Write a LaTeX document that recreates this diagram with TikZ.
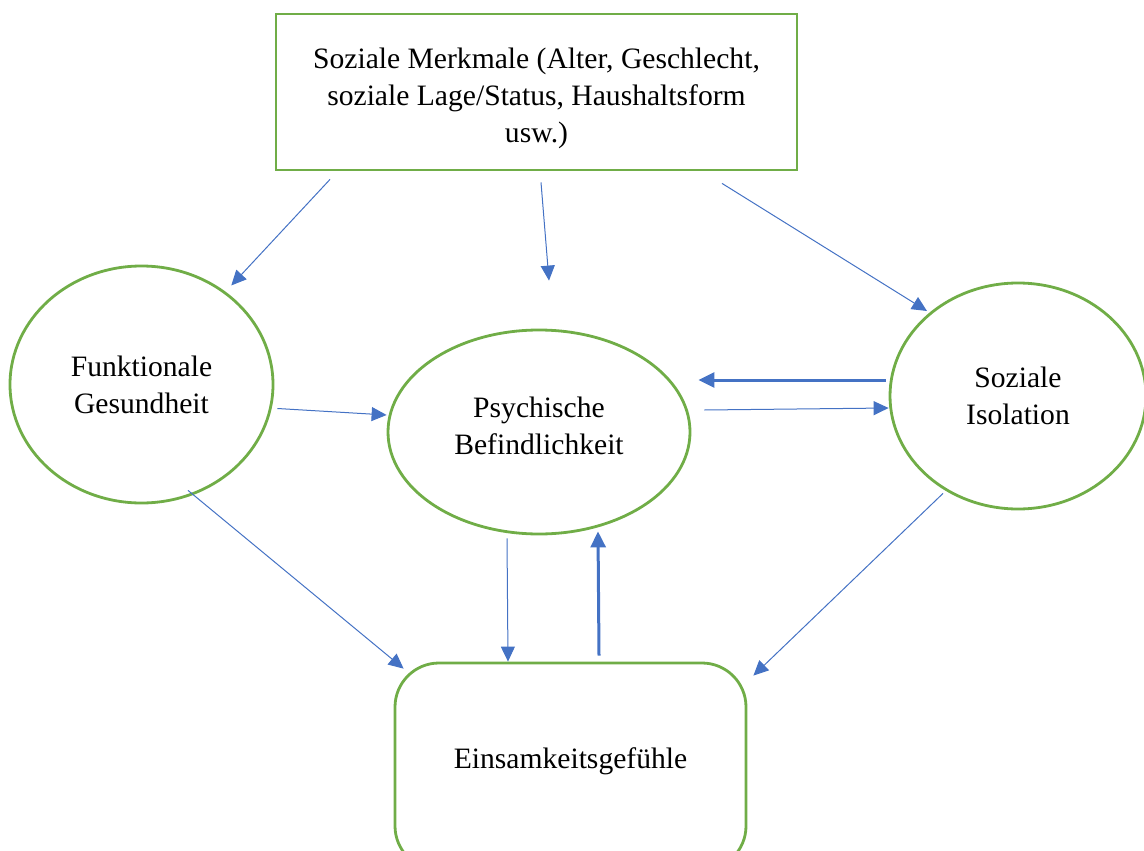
\documentclass[tikz,border=0pt]{standalone}
\usepackage{fontspec}
\setmainfont{Liberation Serif}
\usetikzlibrary{shapes.geometric,arrows.meta}
\definecolor{boxgreen}{HTML}{70AD47}
\definecolor{arrblue}{HTML}{4472C4}
\begin{document}
\begin{tikzpicture}[x=0.5pt, y=-0.5pt,
  every node/.style={font=\fontsize{14.8}{18.5}\selectfont, align=center, inner sep=0pt},
  greenbox/.style={draw=boxgreen, line width=1.4pt},
  oval/.style={greenbox, ellipse},
  arr/.style={draw=arrblue, line width=0.5pt, -{Triangle[length=7.5pt,width=7pt]}},
  thickarr/.style={draw=arrblue, line width=1.5pt, -{Triangle[length=8pt,width=7.5pt]}}]
\useasboundingbox (0,0) rectangle (1144,850);
\clip (0,0) rectangle (1144,850);
\node[greenbox, rectangle, minimum width=260.5pt, minimum height=78pt] (merk) at (536.5,92){};
\node (merktxt) at (536.5,98){Soziale Merkmale (Alter, Geschlecht,\\soziale Lage/Status, Haushaltsform\\usw.)};
\node[oval, minimum width=131.5pt, minimum height=118.5pt] (fg) at (141.5,384.5){Funktionale\\Gesundheit};
\node[oval, minimum width=151pt, minimum height=102pt] (psy) at (539,432){};
\node (psytxt) at (539,426){Psychische\\Befindlichkeit};
\node[oval, minimum width=128pt, minimum height=113pt] (iso) at (1018,396){Soziale\\Isolation};
\node[greenbox, rectangle, rounded corners=22pt, minimum width=175.5pt, minimum height=103.5pt] (einsam) at (570.5,766.5){};
\node (einsamtxt) at (570.5,761){Einsamkeitsgefühle};
\draw[arr] ([xshift=-103.25pt,yshift=-4pt]merk.south) -- ([xshift=3pt,yshift=3pt]fg.48);
\draw[arr] ([xshift=2.25pt,yshift=-5.5pt]merk.south) -- ([xshift=5pt,yshift=24pt]psy.north);
\draw[arr] ([xshift=92.75pt,yshift=-6pt]merk.south) -- ([xshift=-1pt,yshift=1pt]iso.137);
\draw[thickarr] ([xshift=-1.5pt,yshift=8pt]iso.west) -- ([xshift=3.5pt,yshift=26pt]psy.east);
\draw[arr] ([xshift=6.5pt,yshift=11pt]psy.east) -- ([yshift=-6pt]iso.west);
\draw[arr] ([xshift=1.5pt,yshift=-12pt]fg.east) -- ([yshift=8.5pt]psy.west);
\draw[arr] ([xshift=23.25pt,yshift=7pt]fg.south) -- ([xshift=5pt,yshift=-3.5pt]einsam.north west);
\draw[arr] ([xshift=-16pt,yshift=-1.5pt]psy.south) -- ([xshift=-31.25pt]einsam.north);
\draw[thickarr] ([xshift=14.25pt,yshift=3pt]einsam.north) -- ([xshift=29.5pt,yshift=2pt]psy.south);
\draw[arr] ([xshift=-37.5pt,yshift=8.5pt]iso.south) -- ([xshift=3pt,yshift=-7pt]einsam.north east);
\end{tikzpicture}
\end{document}
